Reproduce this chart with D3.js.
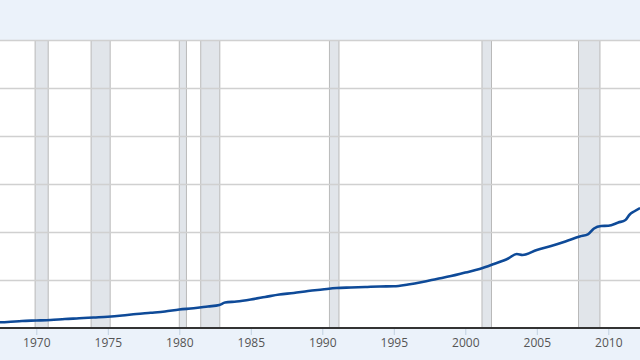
<!DOCTYPE html>
<html>
<head>
<meta charset="utf-8">
<script src="https://cdn.jsdelivr.net/npm/d3@7"></script>
<style>
html,body{margin:0;padding:0;background:#ebf2fa;}
svg{display:block;}
</style>
</head>
<body>
<svg id="chart" width="640" height="360"></svg>
<script>
// Data (decimal years, values in grid units)
const years = [1967.46,1968,1969,1970,1971,1972,1973,1974,1975,1976,1977,1978,1979,1980,1981,1982,1982.8,1983.2,1984,1985,1986,1987,1988,1989,1990,1991,1992,1993,1994,1995,1996,1997,1998,1999,2000,2001,2002,2003,2003.6,2004,2005,2006,2007,2008,2008.6,2009,2009.5,2010,2010.7,2011.2,2011.5,2011.8,2012.22];
const values = [0.119,0.125,0.146,0.156,0.167,0.1875,0.202,0.219,0.235,0.26,0.292,0.317,0.344,0.385,0.41,0.448,0.479,0.531,0.552,0.594,0.646,0.698,0.729,0.771,0.802,0.833,0.844,0.854,0.865,0.869,0.906,0.958,1.021,1.083,1.156,1.229,1.333,1.448,1.542,1.521,1.625,1.708,1.802,1.906,1.958,2.073,2.125,2.131,2.198,2.25,2.365,2.427,2.5];
const recessionStart = [1969.917,1973.833,1980.0,1981.5,1990.5,2001.167,2007.917];
const recessionEnd   = [1970.833,1975.167,1980.5,1982.833,1991.167,2001.833,2009.417];
const tickYears = [1970,1975,1980,1985,1990,1995,2000,2005,2010];
const gridValues = [1,2,3,4,5,6];

const svg = d3.select("#chart");
const W = 640, H = 360;
const plotTop = 40, plotBottom = 328;

const x = d3.scaleLinear().domain([1967.462, 2012.217]).range([0, W]);
const y = d3.scaleLinear().domain([0, 6]).range([plotBottom, plotTop]);

// background
svg.append("rect").attr("x",0).attr("y",0).attr("width",W).attr("height",H).attr("fill","#ebf2fa");
svg.append("rect").attr("x",0).attr("y",plotTop).attr("width",W).attr("height",plotBottom-plotTop).attr("fill","#ffffff");

// recession bars
const rec = svg.append("g");
recessionStart.forEach((s,i)=>{
  const x0 = x(s), x1 = x(recessionEnd[i]);
  rec.append("rect").attr("x",x0).attr("y",plotTop).attr("width",x1-x0).attr("height",plotBottom-plotTop)
    .attr("fill","#e1e5ea");
  rec.append("line").attr("x1",x0).attr("x2",x0).attr("y1",plotTop).attr("y2",plotBottom).attr("stroke","#b9b9b9").attr("stroke-width",1);
  rec.append("line").attr("x1",x1).attr("x2",x1).attr("y1",plotTop).attr("y2",plotBottom).attr("stroke","#b9b9b9").attr("stroke-width",1);
});

// gridlines
const yAxis = d3.axisLeft(y).tickValues(gridValues).tickSize(-W).tickFormat("");
const gy = svg.append("g").call(yAxis);
gy.select(".domain").remove();
gy.selectAll(".tick line").attr("stroke","#d0d0d0").attr("stroke-width",1.5);

// line
const data = years.map((t,i)=>({t, v: values[i]}));
const line = d3.line().x(d=>x(d.t)).y(d=>y(d.v)).curve(d3.curveMonotoneX);
svg.append("path").datum(data).attr("d",line).attr("fill","none")
  .attr("stroke","#0e4a98").attr("stroke-width",2.6).attr("stroke-linejoin","round");

// x axis
const xAxis = d3.axisBottom(x).tickValues(tickYears).tickSize(7).tickPadding(3).tickFormat(d3.format("d"));
const gx = svg.append("g").attr("transform",`translate(0,${plotBottom})`).call(xAxis);
gx.select(".domain").remove();
gx.selectAll(".tick line").attr("stroke","#c0d0e0").attr("stroke-width",1);
gx.selectAll(".tick text").attr("fill","#555555").attr("font-family","'Open Sans', sans-serif").attr("font-size","12px");
svg.append("line").attr("x1",0).attr("x2",W).attr("y1",plotBottom).attr("y2",plotBottom).attr("stroke","#333333").attr("stroke-width",2);
</script>
</body>
</html>
